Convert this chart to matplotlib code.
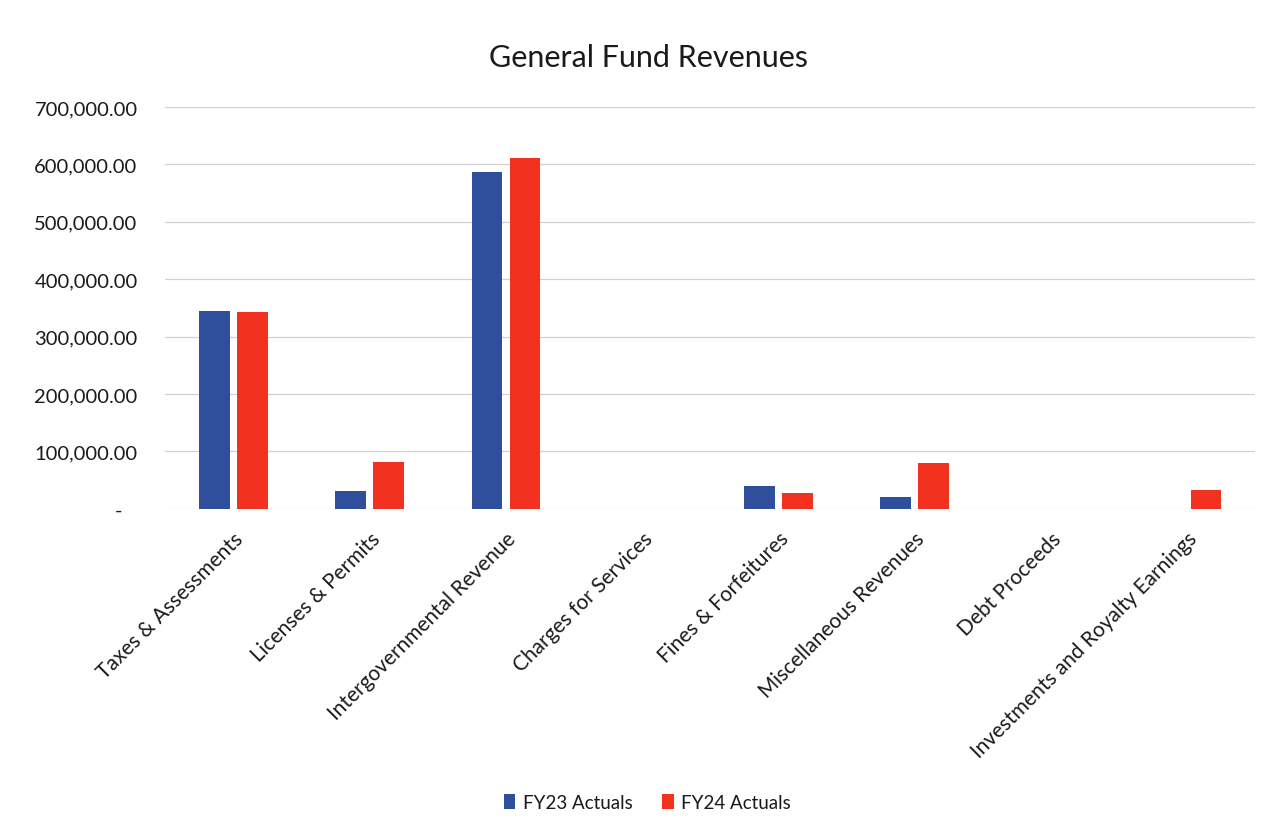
import numpy as np
import matplotlib.pyplot as plt
from matplotlib.ticker import FuncFormatter

plt.rcParams['font.family'] = ['Lato', 'DejaVu Sans']
plt.rcParams['text.color'] = '#1a1a1a'

categories = ["Taxes & Assessments", "Licenses & Permits", "Intergovernmental Revenue",
              "Charges for Services", "Fines & Forfeitures", "Miscellaneous Revenues",
              "Debt Proceeds", "Investments and Royalty Earnings"]
fy23 = [345000, 31000, 586000, 0, 40000, 21000, 0, 0]
fy24 = [342500, 82000, 611000, 0, 27500, 79000, 0, 33000]

fig = plt.figure(figsize=(12.82, 8.37), dpi=100)
ax = fig.add_axes([0.129, 0.391, 0.850, 0.480])

x = np.arange(len(categories))
w = 0.225
ax.bar(x - 0.14, fy23, width=w, color="#2F4E9C", label="FY23 Actuals", zorder=3)
ax.bar(x + 0.14, fy24, width=w, color="#F2321E", label="FY24 Actuals", zorder=3)

ax.set_xlim(-0.5, len(categories) - 0.5)
ax.set_ylim(0, 700000)
ax.set_yticks(np.arange(0, 700001, 100000))


def money(v, pos):
    if v == 0:
        return "-   "
    return f"{v:,.2f}"


ax.yaxis.set_major_formatter(FuncFormatter(money))
ax.set_xticks(x)
ax.set_xticklabels(categories, rotation=45, ha="right", rotation_mode="anchor",
                   fontsize=15, color="#1a1a1a")
ax.tick_params(axis="y", labelsize=14.5, length=0, pad=20, labelcolor="#1a1a1a")
ax.tick_params(axis="x", length=0, pad=14)

ax.grid(axis="y", color="#d0d0d0", linewidth=0.9, zorder=0)
for s in ax.spines.values():
    s.set_visible(False)

fig.text(0.506, 0.931, "General Fund Revenues", ha="center", va="center", fontsize=22)
fig.legend(loc="center", bbox_to_anchor=(0.505, 0.040), ncol=2, frameon=False,
           fontsize=13.5, handlelength=0.6, handleheight=0.8, columnspacing=1.6,
           handletextpad=0.4)

fig.savefig("out.png", dpi=100)
